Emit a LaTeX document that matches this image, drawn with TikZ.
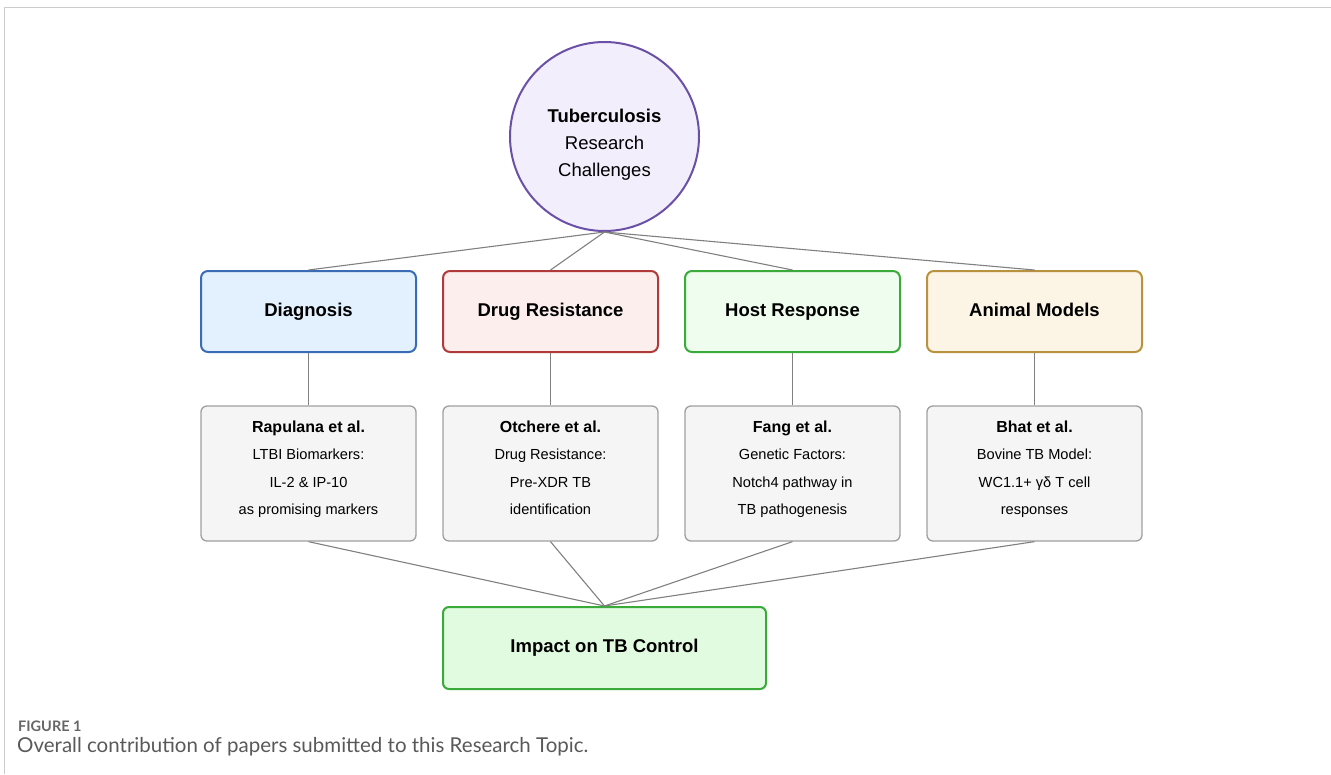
\documentclass[tikz,border=0pt]{standalone}
\usepackage{fontspec}
\setmainfont{Liberation Sans}
\newfontfamily\capfont{Lato}
\begin{document}
\begin{tikzpicture}[x=1pt,y=-1pt,
  catbox/.style={draw, line width=2pt, rounded corners=7pt, minimum width=215pt, minimum height=81pt, inner sep=0pt, text height=13.5pt, text depth=4pt, font=\bfseries\fontsize{18.5}{22}\selectfont},
  paperbox/.style={draw=gray!75, fill=black!4, line width=1.3pt, rounded corners=6pt, minimum width=215pt, minimum height=135pt, inner sep=0pt},
  papertext/.style={align=center, anchor=base, font=\fontsize{14.6}{27.5}\selectfont, inner sep=0pt},
  link/.style={draw=black!50, line width=1.1pt}
]
\useasboundingbox (0,0) rectangle (1331,774);
% frame
\draw[black!20, line width=1pt] (4,774) -- (4,7) -- (1331,7);

\definecolor{purpS}{HTML}{6A50A7}\definecolor{purpF}{HTML}{F3EEFB}
\definecolor{blueS}{HTML}{3A6BB5}\definecolor{blueF}{HTML}{E3F0FD}
\definecolor{redS}{HTML}{B03A3A}\definecolor{redF}{HTML}{FDEEEE}
\definecolor{grnS}{HTML}{3AAA3A}\definecolor{grnF}{HTML}{EEFDEE}
\definecolor{goldS}{HTML}{B8923E}\definecolor{goldF}{HTML}{FCF4E4}
\definecolor{impF}{HTML}{E0FBE0}

\node[circle, draw=purpS, fill=purpF, line width=2pt, minimum size=189pt, inner sep=0pt] (tb) at (604.5,136.5) {};
\node[align=center, font=\fontsize{18.5}{27}\selectfont, inner sep=0pt] (tbt) at (604.5,145) {\textbf{Tuberculosis}\\Research\\Challenges};

\node[catbox, draw=blueS, fill=blueF] (c1) at (308.5,311.5) {Diagnosis};
\node[catbox, draw=redS, fill=redF] (c2) at (550.5,311.5) {Drug Resistance};
\node[catbox, draw=grnS, fill=grnF] (c3) at (792.5,311.5) {Host Response};
\node[catbox, draw=goldS, fill=goldF] (c4) at (1034.5,311.5) {Animal Models};

\node[paperbox] (p1) at (308.5,473.5) {};
\node[paperbox] (p2) at (550.5,473.5) {};
\node[paperbox] (p3) at (792.5,473.5) {};
\node[paperbox] (p4) at (1034.5,473.5) {};

\node[papertext] (t1) at (308.5,514.5) {{\bfseries\fontsize{16}{27.5}\selectfont Rapulana et al.}\\LTBI Biomarkers:\\IL-2 \& IP-10\\as promising markers};
\node[papertext] (t2) at (550.5,514.5) {{\bfseries\fontsize{16}{27.5}\selectfont Otchere et al.}\\Drug Resistance:\\Pre-XDR TB\\identification};
\node[papertext] (t3) at (792.5,514.5) {{\bfseries\fontsize{16}{27.5}\selectfont Fang et al.}\\Genetic Factors:\\Notch4 pathway in\\TB pathogenesis};
\node[papertext] (t4) at (1034.5,514.5) {{\bfseries\fontsize{16}{27.5}\selectfont Bhat et al.}\\Bovine TB Model:\\WC1.1+ γδ T cell\\responses};

\node[draw=grnS, fill=impF, line width=2pt, rounded corners=6pt, minimum width=323pt, minimum height=82pt, inner sep=0pt, text height=13.5pt, text depth=4pt, font=\bfseries\fontsize{18.5}{22}\selectfont] (imp) at (604.5,648) {Impact on TB Control};

\foreach \c in {c1,c2,c3,c4} \draw[link] (tb.south) -- (\c.north);
\foreach \c/\p in {c1/p1,c2/p2,c3/p3,c4/p4} \draw[link] (\c.south) -- (\p.north);
\foreach \p in {p1,p2,p3,p4} \draw[link] (\p.south) -- (imp.north);

\node[anchor=base west, inner sep=0pt, text=black!60, font=\capfont\bfseries\fontsize{14.5}{16}\selectfont] (fig) at (18,731) {FIGURE 1};
\node[anchor=base west, inner sep=0pt, text=black!65, font=\capfont\fontsize{20.5}{22}\selectfont] (cap) at (17,752) {Overall contribution of papers submitted to this Research Topic.};
\end{tikzpicture}
\end{document}
